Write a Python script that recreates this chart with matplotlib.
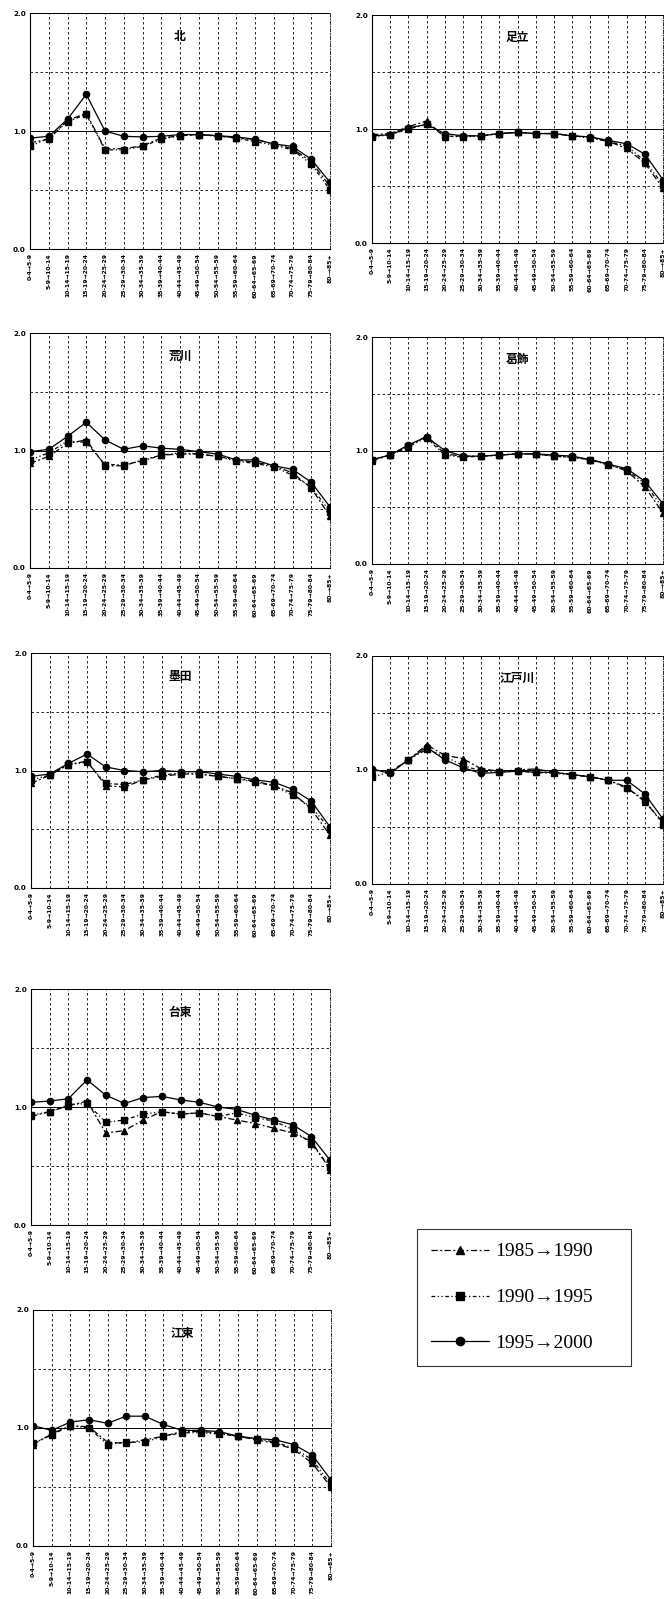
import matplotlib
matplotlib.use("Agg")
import matplotlib.pyplot as plt

plt.rcParams['font.family'] = ['DejaVu Sans', 'Noto Sans CJK JP']

categories = ["0-4→5-9", "5-9→10-14", "10-14→15-19", "15-19→20-24", "20-24→25-29",
              "25-29→30-34", "30-34→35-39", "35-39→40-44", "40-44→45-49", "45-49→50-54",
              "50-54→55-59", "55-59→60-64", "60-64→65-69", "65-69→70-74", "70-74→75-79",
              "75-79→80-84", "80-→85+"]

series_labels = ["1985→1990", "1990→1995", "1995→2000"]

# ---- data per ward: (1985→1990, 1990→1995, 1995→2000)
kita_8590 = [0.90, 0.93, 1.09, 1.15, 0.85, 0.85, 0.875, 0.94, 0.96, 0.97, 0.96, 0.94, 0.93, 0.89, 0.85, 0.74, 0.53]
kita_9095 = [0.87, 0.94, 1.08, 1.14, 0.84, 0.84, 0.87, 0.93, 0.96, 0.97, 0.955, 0.94, 0.91, 0.88, 0.84, 0.72, 0.50]
kita_9500 = [0.94, 0.955, 1.10, 1.31, 1.00, 0.955, 0.95, 0.955, 0.97, 0.97, 0.96, 0.95, 0.93, 0.89, 0.87, 0.76, 0.565]

adachi_8590 = [0.95, 0.96, 1.02, 1.07, 0.93, 0.94, 0.94, 0.96, 0.97, 0.96, 0.96, 0.94, 0.93, 0.89, 0.83, 0.70, 0.48]
adachi_9095 = [0.93, 0.95, 1.00, 1.04, 0.94, 0.93, 0.94, 0.96, 0.97, 0.96, 0.96, 0.94, 0.92, 0.89, 0.85, 0.72, 0.51]
adachi_9500 = [0.94, 0.95, 1.01, 1.04, 0.96, 0.94, 0.94, 0.96, 0.97, 0.96, 0.96, 0.94, 0.93, 0.90, 0.87, 0.78, 0.555]

arakawa_8590 = [0.89, 0.95, 1.06, 1.09, 0.87, 0.87, 0.92, 0.96, 0.97, 0.97, 0.95, 0.92, 0.90, 0.87, 0.81, 0.68, 0.44]
arakawa_9095 = [0.92, 0.98, 1.08, 1.07, 0.88, 0.88, 0.91, 0.96, 0.98, 0.97, 0.95, 0.91, 0.89, 0.86, 0.79, 0.69, 0.48]
arakawa_9500 = [0.99, 1.01, 1.12, 1.24, 1.09, 1.01, 1.04, 1.02, 1.01, 0.99, 0.97, 0.92, 0.92, 0.87, 0.84, 0.73, 0.52]

katsushika_8590 = [0.91, 0.96, 1.03, 1.13, 0.97, 0.95, 0.95, 0.96, 0.97, 0.97, 0.95, 0.94, 0.92, 0.88, 0.82, 0.68, 0.45]
katsushika_9095 = [0.92, 0.96, 1.04, 1.11, 0.96, 0.94, 0.95, 0.96, 0.97, 0.97, 0.95, 0.94, 0.92, 0.87, 0.83, 0.71, 0.49]
katsushika_9500 = [0.92, 0.96, 1.05, 1.12, 1.00, 0.95, 0.95, 0.96, 0.97, 0.97, 0.96, 0.95, 0.92, 0.88, 0.84, 0.73, 0.53]

sumida_8590 = [0.89, 0.96, 1.05, 1.08, 0.87, 0.86, 0.92, 0.95, 0.97, 0.97, 0.95, 0.93, 0.91, 0.87, 0.81, 0.67, 0.45]
sumida_9095 = [0.92, 0.96, 1.05, 1.07, 0.89, 0.88, 0.92, 0.96, 0.98, 0.97, 0.95, 0.93, 0.90, 0.87, 0.79, 0.69, 0.50]
sumida_9500 = [0.95, 0.97, 1.06, 1.14, 1.03, 1.00, 0.99, 1.00, 0.99, 0.99, 0.97, 0.95, 0.92, 0.90, 0.84, 0.74, 0.52]

edogawa_8590 = [1.00, 0.98, 1.09, 1.22, 1.13, 1.10, 1.01, 0.99, 1.00, 1.01, 0.98, 0.96, 0.94, 0.91, 0.85, 0.72, 0.54]
edogawa_9095 = [0.94, 0.98, 1.09, 1.18, 1.12, 1.04, 0.99, 0.98, 0.99, 0.98, 0.97, 0.96, 0.94, 0.91, 0.84, 0.74, 0.52]
edogawa_9500 = [1.01, 0.97, 1.09, 1.20, 1.09, 1.02, 0.97, 0.98, 0.99, 0.98, 0.98, 0.96, 0.94, 0.91, 0.91, 0.79, 0.57]

taito_8590 = [0.92, 0.96, 1.01, 1.05, 0.78, 0.80, 0.89, 0.96, 0.94, 0.95, 0.92, 0.89, 0.86, 0.82, 0.78, 0.71, 0.47]
taito_9095 = [0.93, 0.96, 1.02, 1.03, 0.87, 0.89, 0.94, 0.96, 0.94, 0.95, 0.92, 0.95, 0.91, 0.88, 0.81, 0.69, 0.49]
taito_9500 = [1.04, 1.05, 1.07, 1.23, 1.10, 1.03, 1.08, 1.09, 1.06, 1.04, 1.00, 0.98, 0.93, 0.89, 0.85, 0.75, 0.55]

koto_8590 = [0.86, 0.95, 1.02, 1.01, 0.88, 0.87, 0.90, 0.93, 0.97, 0.97, 0.96, 0.93, 0.90, 0.87, 0.82, 0.70, 0.50]
koto_9095 = [0.87, 0.94, 1.02, 1.00, 0.86, 0.88, 0.88, 0.93, 0.96, 0.96, 0.95, 0.93, 0.91, 0.88, 0.83, 0.73, 0.52]
koto_9500 = [1.02, 0.98, 1.05, 1.07, 1.04, 1.10, 1.10, 1.03, 0.98, 0.98, 0.97, 0.93, 0.91, 0.90, 0.86, 0.77, 0.56]

wards = ["北", "足立", "荒川", "葛飾", "墨田", "江戸川", "台東", "江東"]
ward_data = {
    "北": (kita_8590, kita_9095, kita_9500),
    "足立": (adachi_8590, adachi_9095, adachi_9500),
    "荒川": (arakawa_8590, arakawa_9095, arakawa_9500),
    "葛飾": (katsushika_8590, katsushika_9095, katsushika_9500),
    "墨田": (sumida_8590, sumida_9095, sumida_9500),
    "江戸川": (edogawa_8590, edogawa_9095, edogawa_9500),
    "台東": (taito_8590, taito_9095, taito_9500),
    "江東": (koto_8590, koto_9095, koto_9500),
}

# pixel boxes (left, top, right, bottom) in a 666x1599 canvas
W, H = 666, 1599
boxes = {
    "北": (30, 13, 330, 249),
    "足立": (372, 15, 663, 243),
    "荒川": (30, 333, 330, 568),
    "葛飾": (372, 337, 663, 564),
    "墨田": (31, 653, 330, 888),
    "江戸川": (372, 656, 663, 884),
    "台東": (31, 989, 330, 1225),
    "江東": (33, 1310, 331, 1546),
}

styles = [
    dict(linestyle=(0, (5, 2, 1.5, 2)), marker='^', markersize=4.5, linewidth=0.9),
    dict(linestyle=(0, (3, 2, 1, 2, 1, 2)), marker='s', markersize=4, linewidth=0.9),
    dict(linestyle='-', marker='o', markersize=4.5, linewidth=0.9),
]

fig = plt.figure(figsize=(W / 100, H / 100), dpi=100)
x = list(range(len(categories)))

handles = []
for ward in wards:
    l, t, r, b = boxes[ward]
    ax = fig.add_axes([l / W, 1 - b / H, (r - l) / W, (b - t) / H])
    hs = []
    for vals, st in zip(ward_data[ward], styles):
        h, = ax.plot(x, vals, color='black', **st)
        hs.append(h)
    if not handles:
        handles = hs
    ax.set_xlim(0, len(categories) - 1)
    ax.set_ylim(0, 2)
    ax.set_yticks([0, 1, 2])
    ax.set_yticks([0.5, 1.5], minor=True)
    ax.set_yticklabels(["0.0", "1.0", "2.0"], fontsize=5.2, fontweight='bold')
    ax.set_xticks(x)
    ax.set_xticklabels(categories, rotation=90, fontsize=4.4, fontweight='bold')
    ax.tick_params(axis='both', which='both', length=0, pad=3)
    ax.grid(axis='x', which='major', color='black', linestyle=(0, (3, 3)), linewidth=0.6)
    ax.grid(axis='y', which='minor', color='black', linestyle=(0, (3, 3)), linewidth=0.6)
    ax.grid(axis='y', which='major', color='black', linestyle='-', linewidth=0.7)
    for s in ['top', 'right']:
        ax.spines[s].set_linestyle((0, (4, 2, 1, 2)))
        ax.spines[s].set_linewidth(0.6)
    for s in ['left', 'bottom']:
        ax.spines[s].set_linewidth(0.8)
    ax.set_axisbelow(True)
    ax.text(0.5, 0.9, ward, transform=ax.transAxes, ha='center', va='center',
            fontsize=8.5, fontweight='bold', family=['Noto Sans CJK JP'])

# legend box
lx0, ly0, lx1, ly1 = 417, 1228, 631, 1367
leg = fig.legend(handles, series_labels, loc='center',
                 bbox_to_anchor=(lx0 / W, 1 - ly1 / H, (lx1 - lx0) / W, (ly1 - ly0) / H),
                 mode='expand', frameon=True, fancybox=False, edgecolor='black',
                 prop={'family': ['Liberation Serif', 'DejaVu Serif'], 'size': 14},
                 handlelength=3.0, labelspacing=1.45, borderpad=0.7, handletextpad=0.3,
                 borderaxespad=0)
leg.get_frame().set_linewidth(0.8)
for lh in leg.legend_handles:
    lh.set_markersize(6)

fig.savefig("out.png", dpi=100)
